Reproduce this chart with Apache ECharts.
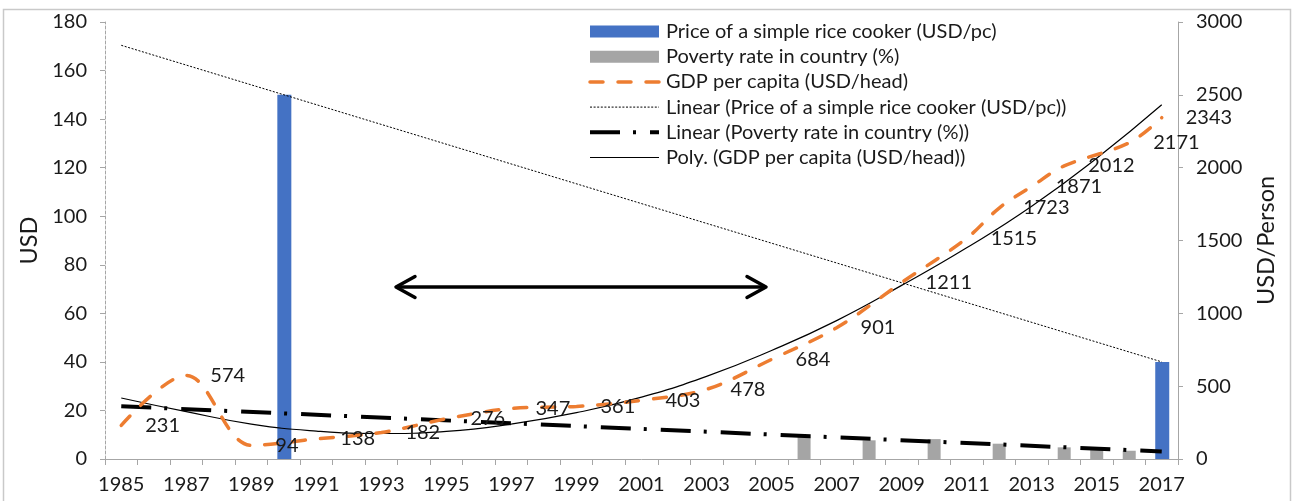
<!DOCTYPE html>
<html><head><meta charset="utf-8">
<script src="https://cdn.jsdelivr.net/npm/echarts@6/dist/echarts.min.js"></script>
<style>html,body{margin:0;padding:0;background:#fff}#c{width:1294px;height:501px}</style>
</head><body><div id="c"></div>
<script>
// ---- data ----
const years = ['1985','1986','1987','1988','1989','1990','1991','1992','1993','1994','1995','1996','1997','1998','1999','2000','2001','2002','2003','2004','2005','2006','2007','2008','2009','2010','2011','2012','2013','2014','2015','2016','2017'];

const riceYears = ['1990','2017'];
const riceValues = [150, 40];

const povertyYears = ['2006','2008','2010','2012','2014','2015','2016'];
const povertyValues = [9.3, 7.7, 8.2, 6.3, 4.8, 4.1, 3.4];

const gdpYears = ['1985','1987','1989','1991','1993','1995','1997','1999','2001','2003','2005','2007','2009','2011','2012','2013','2014','2016','2017'];
const gdpValues = [231, 574, 94, 138, 182, 276, 347, 361, 403, 478, 684, 901, 1211, 1515, 1723, 1871, 2012, 2171, 2343];

const riceTrendYears = ['1985','2017'];
const riceTrendValues = [170.4, 40];

const povertyTrendYears = ['1985','2017'];
const povertyTrendValues = [21.7, 3.1];

const polyTrendYears = ['1985','1987','1989','1991','1993','1995','1997','1999','2001','2003','2005','2007','2009','2011','2013','2015','2017'];
const polyTrendValues = [419, 325, 240, 192, 175, 190, 240, 318, 425, 567, 745, 950, 1192, 1450, 1735, 2065, 2432];

const leftTicks = {min: 0, max: 180, interval: 20};
const rightTicks = {min: 0, max: 3000, interval: 500};

// ---- build per-category arrays ----
function spread(ys, vs) {
  return years.map(y => { const i = ys.indexOf(y); return i < 0 ? null : vs[i]; });
}

const FONT = 'Lato';
const TXT = '#1a1a1a';
const FS = 20;
const chart = echarts.init(document.getElementById('c'), null, {renderer: 'canvas'});

const hideSym = {opacity: 0};
chart.setOption({
  animation: false,
  backgroundColor: '#fff',
  textStyle: {fontFamily: FONT, color: TXT},
  grid: {left: 105, right: 116, top: 22, bottom: 42, containLabel: false},
  legend: {
    orient: 'vertical', left: 583, top: 16.5,
    itemWidth: 69, itemHeight: 12, itemGap: 5.2,
    lineStyle: {width: 'inherit'},
    textStyle: {fontFamily: FONT, fontSize: FS, color: TXT, lineHeight: 20, padding: [0, 0, 0, 2]},
    data: [
      {name: 'Price of a simple rice cooker (USD/pc)', icon: 'rect'},
      {name: 'Poverty rate in country (%)', icon: 'rect'},
      {name: 'GDP per capita (USD/head)', itemStyle: hideSym},
      {name: 'Linear (Price of a simple rice cooker (USD/pc))', itemStyle: hideSym},
      {name: 'Linear (Poverty rate in country (%))', itemStyle: hideSym},
      {name: 'Poly. (GDP per capita (USD/head))', itemStyle: hideSym}
    ]
  },
  xAxis: {
    type: 'category', data: years, boundaryGap: true,
    axisLine: {lineStyle: {color: '#a6a6a6', width: 1}},
    axisTick: {show: true, interval: 0, length: 6, lineStyle: {color: '#a6a6a6'}},
    axisLabel: {interval: 1, margin: 16, fontSize: FS, fontFamily: FONT, color: TXT},
    splitLine: {show: false}
  },
  yAxis: [
    {
      type: 'value', min: leftTicks.min, max: leftTicks.max, interval: leftTicks.interval,
      name: 'USD', nameLocation: 'middle', nameRotate: 90, nameGap: 62,
      nameTextStyle: {fontSize: 23.5, fontFamily: FONT, color: TXT},
      axisLine: {show: true, lineStyle: {color: '#a6a6a6', type: [3, 2]}},
      axisTick: {show: true, length: 5, lineStyle: {color: '#a6a6a6'}},
      axisLabel: {margin: 18, fontSize: FS, fontFamily: FONT, color: TXT},
      splitLine: {show: false}
    },
    {
      type: 'value', min: rightTicks.min, max: rightTicks.max, interval: rightTicks.interval,
      position: 'right',
      name: 'USD/Person', nameLocation: 'middle', nameRotate: 90, nameGap: 76,
      nameTextStyle: {fontSize: 23.5, fontFamily: FONT, color: TXT},
      axisLine: {show: true, lineStyle: {color: '#a6a6a6'}},
      axisTick: {show: true, length: 5, lineStyle: {color: '#a6a6a6'}},
      axisLabel: {margin: 18, fontSize: FS, fontFamily: FONT, color: TXT, formatter: v => String(v)},
      splitLine: {show: false}
    }
  ],
  series: [
    {
      name: 'Price of a simple rice cooker (USD/pc)', type: 'bar', yAxisIndex: 0,
      data: spread(riceYears, riceValues), barWidth: 14, barGap: '-100%',
      itemStyle: {color: '#4472C4'}, z: 1
    },
    {
      name: 'Poverty rate in country (%)', type: 'bar', yAxisIndex: 0,
      data: spread(povertyYears, povertyValues), barWidth: 13, barGap: '-100%',
      itemStyle: {color: '#A5A5A5'}, z: 1
    },
    {
      name: 'GDP per capita (USD/head)', type: 'line', yAxisIndex: 1,
      data: spread(gdpYears, gdpValues), connectNulls: true, smooth: 0.35,
      symbol: 'circle', symbolSize: 2, showSymbol: true, showAllSymbol: true,
      lineStyle: {color: '#ED7D31', width: 3.5, type: [13, 15], cap: 'round'},
      itemStyle: {color: 'rgba(0,0,0,0)', borderWidth: 0},
      label: {show: true, position: 'right', distance: 23, fontSize: FS, fontFamily: FONT, color: TXT, opacity: 1,
              formatter: p => p.value == null ? '' : String(p.value)},
      z: 4
    },
    {
      name: 'Linear (Price of a simple rice cooker (USD/pc))', type: 'line', yAxisIndex: 0,
      data: spread(riceTrendYears, riceTrendValues), connectNulls: true, symbol: 'none',
      lineStyle: {color: '#000', width: 1, type: [2, 1.6]}, itemStyle: {color: '#000'}, z: 3
    },
    {
      name: 'Linear (Poverty rate in country (%))', type: 'line', yAxisIndex: 0,
      data: spread(povertyTrendYears, povertyTrendValues), connectNulls: true, symbol: 'none',
      lineStyle: {color: '#000', width: 4, type: [30, 13, 3, 14]}, itemStyle: {color: '#000'}, z: 3
    },
    {
      name: 'Poly. (GDP per capita (USD/head))', type: 'line', yAxisIndex: 1,
      data: spread(polyTrendYears, polyTrendValues), connectNulls: true, smooth: 0.5, symbol: 'none',
      lineStyle: {color: '#000', width: 1.2}, itemStyle: {color: '#000'}, z: 3
    }
  ],
  graphic: [
    {type: 'rect', shape: {x: 3.5, y: 9.5, width: 1287, height: 500}, style: {fill: 'none', stroke: '#c9c9c9', lineWidth: 1.5}, silent: true, z: -1},
    {type: 'group', silent: true, z: 10, children: [
      {type: 'polyline', shape: {points: [[396, 287], [766, 287]]}, style: {stroke: '#000', lineWidth: 3.5, fill: 'none'}},
      {type: 'polyline', shape: {points: [[415, 276.5], [396, 287], [415, 297.5]]}, style: {stroke: '#000', lineWidth: 3.5, fill: 'none', lineCap: 'round', lineJoin: 'round'}},
      {type: 'polyline', shape: {points: [[747, 276.5], [766, 287], [747, 297.5]]}, style: {stroke: '#000', lineWidth: 3.5, fill: 'none', lineCap: 'round', lineJoin: 'round'}}
    ]}
  ]
});
</script>
</body></html>
